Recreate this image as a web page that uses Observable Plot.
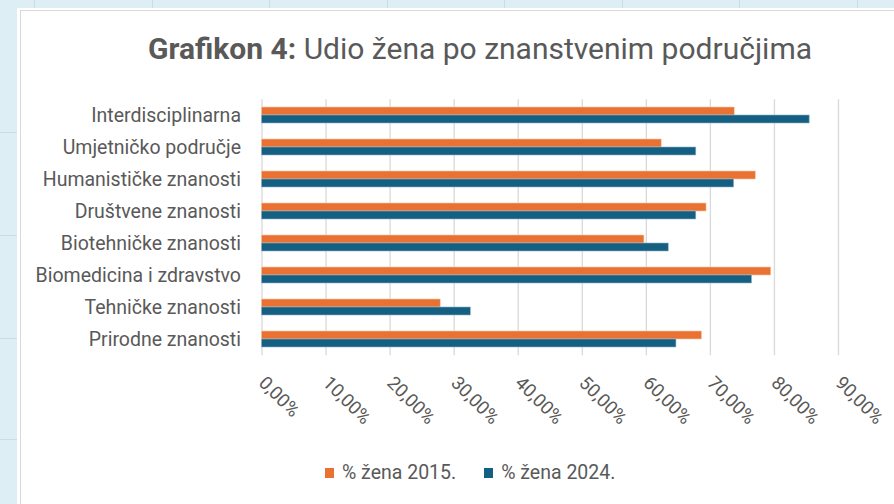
<!DOCTYPE html>
<html>
<head>
<meta charset="utf-8">
<script src="https://cdn.jsdelivr.net/npm/d3@7"></script>
<script src="https://cdn.jsdelivr.net/npm/@observablehq/plot@0.6"></script>
<style>
  html, body { margin: 0; padding: 0; }
  body { width: 894px; height: 504px; background: #ddeef5; position: relative; overflow: hidden; font-family: Roboto, "Liberation Sans", sans-serif; }
  .mark { position: absolute; background: #c9dde4; }
  #card { position: absolute; left: 17px; top: 8px; right: 0; bottom: 0; background: #fff; }
  #frame { position: absolute; left: 3px; top: 2px; right: 0; bottom: 0; border-left: 1.5px solid #d9d9d9; border-top: 1.5px solid #d9d9d9; }
  #title { position: absolute; left: 0; width: 960px; top: 31px; text-align: center; font-size: 30px; color: #595959; white-space: nowrap; }
  #title b { font-weight: 700; }
  #chart { position: absolute; left: 0; top: 80px; }
  #legend { position: absolute; top: 461px; left: 325px; font-size: 19.5px; color: #595959; white-space: nowrap; display: flex; align-items: center; }
  .sw { display: inline-block; width: 9px; height: 10px; margin-right: 8px; }
  .item { display: flex; align-items: center; margin-right: 28px; }
</style>
</head>
<body>
<div class="mark" style="left:34px;top:0;width:1px;height:8px"></div>
<div class="mark" style="left:152px;top:0;width:1px;height:8px"></div>
<div class="mark" style="left:269px;top:0;width:1px;height:8px"></div>
<div class="mark" style="left:387px;top:0;width:1px;height:8px"></div>
<div class="mark" style="left:504px;top:0;width:1px;height:8px"></div>
<div class="mark" style="left:622px;top:0;width:1px;height:8px"></div>
<div class="mark" style="left:739px;top:0;width:1px;height:8px"></div>
<div class="mark" style="left:857px;top:0;width:1px;height:8px"></div>
<div class="mark" style="left:0;top:132px;width:17px;height:1px"></div>
<div class="mark" style="left:0;top:235px;width:17px;height:1px"></div>
<div class="mark" style="left:0;top:338px;width:17px;height:1px"></div>
<div class="mark" style="left:0;top:439px;width:17px;height:1px"></div>
<div id="card"><div id="frame"></div></div>
<div id="title"><b>Grafikon 4:</b> Udio žena po znanstvenim područjima</div>
<div id="chart"></div>
<div id="legend"></div>
<script>
const categories = [
  "Interdisciplinarna",
  "Umjetničko područje",
  "Humanističke znanosti",
  "Društvene znanosti",
  "Biotehničke znanosti",
  "Biomedicina i zdravstvo",
  "Tehničke znanosti",
  "Prirodne znanosti"
];
const series = ["% žena 2015.", "% žena 2024."];
const values2015 = [73.8, 62.4, 77.1, 69.4, 59.7, 79.5, 27.9, 68.7];
const values2024 = [85.5, 67.8, 73.7, 67.8, 63.5, 76.5, 32.6, 64.7];
const xTicks = [0, 10, 20, 30, 40, 50, 60, 70, 80, 90];
const tickLabels = ["0,00%", "10,00%", "20,00%", "30,00%", "40,00%", "50,00%", "60,00%", "70,00%", "80,00%", "90,00%"];
const colors = ["#E97132", "#156082"];

const rows2015 = categories.map((c, i) => ({category: c, value: values2015[i]}));
const rows2024 = categories.map((c, i) => ({category: c, value: values2024[i]}));

const txt = "#595959";
const plot = Plot.plot({
  width: 894,
  height: 360,
  marginLeft: 261.5,
  marginRight: 56,
  marginTop: 19.2,
  marginBottom: 84.8,
  style: {background: "transparent", fontFamily: "Roboto, 'Liberation Sans', sans-serif", color: txt},
  x: {domain: [0, 90], ticks: xTicks},
  y: {domain: categories, paddingInner: 0.5, paddingOuter: 0.25},
  marks: [
    Plot.gridX(xTicks, {stroke: "#d9d9d9", strokeOpacity: 1, strokeWidth: 1.3}),
    Plot.barX(rows2015, {x: "value", y: "category", fill: colors[0], insetBottom: 8, stroke: "#f7c9ad", strokeWidth: 0.6}),
    Plot.barX(rows2024, {x: "value", y: "category", fill: colors[1], insetTop: 8, stroke: "#8fb3c4", strokeWidth: 0.6}),
    Plot.axisY({tickSize: 0, tickPadding: 21, fontSize: 19.5, fill: txt, label: null}),
    Plot.axisX(xTicks, {tickSize: 0, tickPadding: 24, tickRotate: 45, fontSize: 18.5, fill: txt, label: null,
      tickFormat: (d) => tickLabels[xTicks.indexOf(d)]})
  ]
});
document.getElementById("chart").appendChild(plot);

const legend = document.getElementById("legend");
series.forEach((s, i) => {
  const item = document.createElement("span");
  item.className = "item";
  const sw = document.createElement("span");
  sw.className = "sw";
  sw.style.background = colors[i];
  item.appendChild(sw);
  item.appendChild(document.createTextNode(s));
  legend.appendChild(item);
});
</script>
</body>
</html>
